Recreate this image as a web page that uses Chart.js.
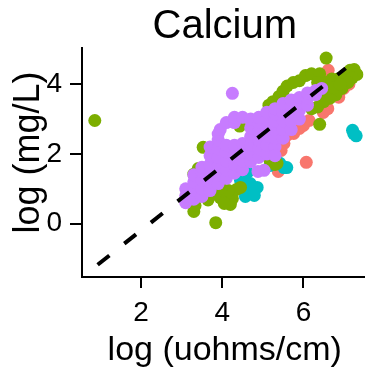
<!DOCTYPE html>
<html>
<head>
<meta charset="utf-8">
<script src="https://cdn.jsdelivr.net/npm/chart.js@4/dist/chart.umd.min.js"></script>
<style>
  html, body { margin: 0; padding: 0; background: #fff; }
  #wrap { width: 370px; height: 370px; }
</style>
</head>
<body>
<div id="wrap"><canvas id="chart" width="370" height="370"></canvas></div>
<script>
// log conductivity (x) vs log calcium (y), four site groups
const titleText = "Calcium";
const xLabel = "log (uohms/cm)";
const yLabel = "log (mg/L)";
const xTicks = [2, 4, 6];
const yTicks = [0, 2, 4];

// fitted line end points
const fitLine = [[0.93, -1.18], [7.04, 4.46]];

const purplePts = [
    [3.1, 0.6], [3.1, 0.8], [3.1, 1.0],
    [3.3, 0.7], [3.3, 0.95], [3.3, 1.2], [3.3, 1.4],
    [3.5, 0.78], [3.5, 1.0], [3.5, 1.25], [3.5, 1.5], [3.5, 1.62],
    [3.7, 0.95], [3.7, 1.2], [3.7, 1.45], [3.7, 1.7], [3.7, 1.95], [3.7, 2.2],
    [3.9, 1.15], [3.9, 1.4], [3.9, 1.65], [3.9, 1.9], [3.9, 2.15], [3.9, 2.4], [3.9, 2.57], [3.95, 2.7],
    [4.1, 1.3], [4.1, 1.55], [4.1, 1.8], [4.1, 2.05], [4.1, 2.25], [4.1, 2.9],
    [4.3, 1.45], [4.3, 1.7], [4.3, 1.95], [4.3, 2.25], [4.3, 2.9], [4.3, 3.05],
    [4.5, 1.55], [4.5, 1.8], [4.5, 2.05], [4.5, 2.3], [4.5, 3.05],
    [4.7, 1.78], [4.7, 2.0], [4.7, 2.25], [4.7, 2.5], [4.7, 2.75], [4.7, 3.0],
    [4.9, 1.9], [4.9, 2.15], [4.9, 2.4], [4.9, 2.65], [4.9, 2.9], [4.9, 3.05],
    [5.1, 2.0], [5.1, 2.25], [5.1, 2.5], [5.1, 2.75], [5.1, 3.0], [5.1, 3.2],
    [5.3, 2.2], [5.3, 2.45], [5.3, 2.7], [5.3, 2.95], [5.3, 3.15], [5.3, 3.3],
    [5.5, 2.45], [5.5, 2.7], [5.5, 2.95], [5.5, 3.2], [5.5, 3.45],
    [5.7, 2.7], [5.7, 2.95], [5.7, 3.2], [5.7, 3.4], [5.7, 3.55],
    [5.9, 3.0], [5.9, 3.25], [5.9, 3.45], [5.9, 3.62],
    [6.1, 3.4], [6.1, 3.6], [6.1, 3.75],
    [6.3, 3.7], [6.3, 3.82],
    [6.45, 3.88],
    [4.25, 3.74], [5.03, 1.53], [4.88, 1.5], [5.3, 1.95]
];

const greenPts = [
    [0.86, 2.96], [6.56, 4.75], [6.4, 2.85],
    [5.15, 3.4], [5.25, 3.5], [5.4, 3.65], [5.5, 3.8], [5.6, 3.95], [5.75, 4.05],
    [5.9, 4.1], [6.05, 4.25], [6.2, 4.3], [6.4, 4.3], [6.55, 4.05], [6.7, 4.15],
    [6.85, 4.15], [7.0, 4.25], [7.15, 4.4], [7.25, 4.42], [7.32, 4.28], [7.2, 4.18],
    [7.1, 4.05], [6.95, 3.88], [6.8, 3.7], [6.65, 3.6], [6.5, 3.5], [6.35, 3.35],
    [6.2, 3.3], [6.55, 3.8], [6.75, 3.9], [6.9, 4.0], [6.35, 4.05],
    [3.53, 2.19], [3.41, 1.58], [3.3, 1.42],
    [3.3, 0.35], [3.33, 0.52], [3.65, 0.68], [3.8, 0.85], [3.95, 0.75], [4.1, 0.68],
    [4.25, 0.72], [4.35, 0.98], [4.15, 0.95], [3.97, 1.02], [3.62, 0.9], [4.2, 0.55],
    [4.05, 0.58], [3.84, 0.03], [4.45, 1.04], [4.43, 2.8],
    [5.18, 1.81], [5.3, 1.7], [5.35, 1.73]
];

const cyanPts = [
    [7.21, 2.68], [7.3, 2.52], [7.24, 2.58],
    [4.62, 1.47], [4.45, 1.24], [4.69, 1.15], [4.69, 0.86], [4.86, 1.04], [4.57, 0.78],
    [4.79, 0.81], [4.55, 1.3], [5.52, 1.61], [5.42, 1.73], [5.18, 1.67], [5.59, 1.61],
    [3.82, 0.89], [3.72, 2.04]
];

const salmonPts = [
    [6.14, 2.96], [6.0, 2.82], [5.9, 2.73], [5.76, 2.59], [5.66, 2.6], [5.59, 2.53],
    [5.52, 2.3], [5.45, 2.1], [5.42, 1.61], [5.38, 1.5], [6.07, 1.76],
    [6.49, 3.19], [6.6, 3.3], [6.87, 3.63], [6.99, 3.88], [7.05, 4.03], [7.12, 4.0],
    [6.61, 4.4], [4.06, 0.86]
];

const FONT = "'Liberation Sans', Arial, sans-serif";

function toXY(pts) {
    return pts.map(p => ({ x: p[0], y: p[1] }));
}

function pointSet(pts, color) {
    return {
        data: toXY(pts),
        backgroundColor: color,
        borderWidth: 0,
        pointRadius: 6.5,
        pointHoverRadius: 6.5
    };
}

// title and axis names sit outside the scale boxes
const panelText = {
    id: "panelText",
    afterDraw(chart) {
        const { ctx, chartArea } = chart;
        const cx = (chartArea.left + chartArea.right) / 2 + 2;
        ctx.save();
        ctx.fillStyle = "#000";
        ctx.textAlign = "center";
        ctx.textBaseline = "alphabetic";

        ctx.font = "40px " + FONT;
        ctx.fillText(titleText, cx, 38);

        ctx.font = "34px " + FONT;
        ctx.fillText(xLabel, cx, 360);

        ctx.translate(39, 152.5);
        ctx.rotate(-Math.PI / 2);
        ctx.font = "36px " + FONT;
        ctx.fillText(yLabel, 0, 0);
        ctx.restore();
    }
};

const axisStyle = {
    grid: { drawOnChartArea: false, drawTicks: true, color: "#000", lineWidth: 2 },
    border: { display: true, color: "#000", width: 2 }
};

new Chart(document.getElementById("chart"), {
    type: "scatter",
    data: {
        datasets: [
            {
                data: toXY(fitLine),
                showLine: true,
                borderColor: "#000",
                borderWidth: 4,
                borderDash: [15, 19],
                pointRadius: 0,
                fill: false
            },
            pointSet(purplePts, "#C77CFF"),
            pointSet(greenPts, "#7CAE00"),
            pointSet(cyanPts, "#00BFC4"),
            pointSet(salmonPts, "#F8766D")
        ]
    },
    options: {
        responsive: false,
        animation: false,
        layout: { padding: { top: 48, right: 1, left: 0, bottom: 0 } },
        plugins: {
            legend: { display: false },
            tooltip: { enabled: false }
        },
        scales: {
            x: {
                type: "linear",
                min: 0.545,
                max: 7.48,
                grid: { ...axisStyle.grid, tickLength: 11 },
                border: axisStyle.border,
                afterBuildTicks: s => { s.ticks = xTicks.map(v => ({ value: v })); },
                afterFit: s => { s.height = 93; },
                ticks: {
                    color: "#000",
                    padding: 8,
                    maxRotation: 0,
                    font: { size: 28, family: FONT }
                }
            },
            y: {
                type: "linear",
                min: -1.53,
                max: 5.04,
                grid: { ...axisStyle.grid, tickLength: 12 },
                border: axisStyle.border,
                afterBuildTicks: s => { s.ticks = yTicks.map(v => ({ value: v })); },
                afterFit: s => { s.width = 82; },
                ticks: {
                    color: "#000",
                    padding: 8,
                    font: { size: 28, family: FONT }
                }
            }
        }
    },
    plugins: [panelText]
});
</script>
</body>
</html>
